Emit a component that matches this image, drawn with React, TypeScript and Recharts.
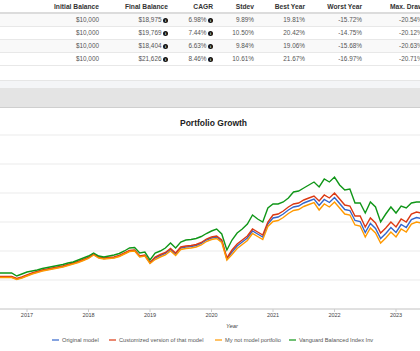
import { LineChart, Line, XAxis, YAxis, CartesianGrid, Label } from 'recharts';

// month-end values, first point = end of Jun 2016
const startYear = 2016.5;

const original = [
  10200, 10200, 10200, 10200, 10000, 10150, 10350, 10550, 10700, 10850, 10950, 11050,
  11150, 11250, 11400, 11550, 11700, 11900, 12100, 12450, 12150, 12050, 12100, 12150,
  12300, 12550, 12800, 12850, 12250, 12350, 11600, 12100, 12350, 12550, 12950, 12500,
  13100, 13200, 13250, 13350, 13550, 13900, 14100, 14200, 13800, 12000, 12700, 13300,
  13700, 14100, 14800, 14500, 14200, 15500, 16100, 16200, 16500, 16900, 17200, 17300,
  17600, 17800, 18000, 17350, 17950, 17650, 18150, 17550, 16950, 16850, 15850, 15750,
  14650, 15550, 15050, 14050, 14550, 15150, 14650, 15450, 15150, 15950, 16150, 16050,
];

const customized = [
  10250, 10250, 10250, 10250, 10050, 10200, 10400, 10600, 10750, 10900, 11000, 11100,
  11200, 11300, 11450, 11600, 11750, 11950, 12150, 12500, 12200, 12100, 12150, 12200,
  12350, 12600, 12850, 12900, 12300, 12400, 11650, 12200, 12450, 12650, 13050, 12600,
  13200, 13300, 13350, 13450, 13650, 14000, 14200, 14300, 13900, 12100, 12900, 13500,
  13900, 14300, 15000, 14700, 14400, 15700, 16400, 16500, 16800, 17200, 17500, 17600,
  17900, 18100, 18300, 17800, 18400, 18100, 18600, 18000, 17400, 17300, 16300, 16300,
  15200, 16100, 15600, 14600, 15100, 15700, 15200, 16000, 15700, 16500, 16700, 16600,
];

const myPortfolio = [
  10150, 10150, 10150, 10150, 9950, 10100, 10300, 10500, 10650, 10800, 10900, 11000,
  11100, 11200, 11350, 11500, 11650, 11850, 12050, 12400, 12100, 12000, 12050, 12100,
  12250, 12500, 12750, 12800, 12200, 12300, 11550, 11950, 12200, 12400, 12800, 12350,
  12950, 13050, 13100, 13200, 13400, 13750, 13950, 14050, 13650, 11900, 12450, 13050,
  13450, 13850, 14550, 14250, 13950, 15250, 15750, 15850, 16150, 16550, 16850, 16950,
  17250, 17450, 17650, 16900, 17500, 17200, 17700, 17100, 16500, 16400, 15400, 15300,
  14200, 15100, 14600, 13600, 14100, 14700, 14200, 15000, 14700, 15500, 15700, 15600,
];

const vanguard = [
  10600, 10600, 10600, 10600, 10300, 10500, 10700, 10800, 10900, 11050, 11150, 11250,
  11350, 11450, 11600, 11700, 11900, 12100, 12300, 12600, 12300, 12200, 12300, 12400,
  12550, 12800, 13100, 13150, 12600, 12700, 11900, 12600, 12800, 13100, 13600, 13100,
  13700, 13900, 13950, 14050, 14250, 14550, 14800, 15000, 14500, 12900, 13900, 14600,
  15000, 15500, 16400, 16000, 15700, 17100, 17500, 17500, 17700, 18100, 18700, 18800,
  19100, 19400, 19700, 19200, 20000, 19700, 20200, 19400, 18900, 19000, 17600, 17600,
  16600, 17700, 17200, 15700, 16500, 17200, 16600, 17300, 17100, 17600, 17700, 17700,
];

const yearTicks = [2017, 2018, 2019, 2020, 2021, 2022, 2023];
const balanceTicks = [7000, 9900, 12800, 15700, 18600, 21500, 24400];

const headers = ['Initial Balance', 'Final Balance', 'CAGR', 'Stdev', 'Best Year', 'Worst Year'];
const initialBalances = ['$10,000', '$10,000', '$10,000', '$10,000'];
const finalBalances = ['$18,975', '$19,769', '$18,404', '$21,626'];
const cagrs = ['6.98%', '7.44%', '6.63%', '8.46%'];
const stdevs = ['9.89%', '10.50%', '9.84%', '10.61%'];
const bestYears = ['19.81%', '20.42%', '19.06%', '21.67%'];
const worstYears = ['-15.72%', '-14.75%', '-15.68%', '-16.97%'];
const maxDrawdowns = ['-20.54%', '-20.12%', '-20.63%', '-20.71%'];

const seriesNames = ['Original model', 'Customized version of that model', 'My not model portfolio', 'Vanguard Balanced Index Inv'];
const COLORS = ['#3366cc', '#dc3912', '#ff9900', '#109618'];

const colRight = [99, 168, 213, 254, 305, 362];
const legendLeft = [52, 109, 215, 289];

const chartData = original.map((v, i) => ({
  t: startYear + i / 12,
  original: v,
  customized: customized[i],
  mine: myPortfolio[i],
  vanguard: vanguard[i],
}));

function InfoIcon() {
  return (
    <span
      style={{
        display: 'inline-block',
        width: 5,
        height: 5,
        borderRadius: '50%',
        background: '#111',
        color: '#fff',
        fontSize: 4,
        lineHeight: '5px',
        textAlign: 'center',
        fontWeight: 'bold',
        marginLeft: 1.5,
        verticalAlign: 'middle',
      }}
    >
      i
    </span>
  );
}

function Cell({ right, top, children, bold }: any) {
  return (
    <div
      style={{
        position: 'absolute',
        right: 420 - right,
        top,
        height: 13,
        lineHeight: '13px',
        whiteSpace: 'nowrap',
        fontSize: bold ? 6.7 : 6.4,
        fontWeight: bold ? 'bold' : 'normal',
        color: bold ? '#333' : '#555',
      }}
    >
      {children}
    </div>
  );
}

function StatsTable() {
  const rows = [0, 1, 2, 3];
  return (
    <div style={{ position: 'absolute', left: 0, top: 0, width: 420, height: 80 }}>
      <div style={{ position: 'absolute', left: 0, top: 12, width: 420, height: 1.5, background: '#dcdcdc' }} />
      {rows.map((r) => (
        <div
          key={r}
          style={{
            position: 'absolute',
            left: 0,
            top: 13.5 + r * 13,
            width: 420,
            height: 12,
            background: r % 2 === 0 ? '#f9f9f9' : '#fff',
            borderBottom: '1px solid #e8e8e8',
          }}
        />
      ))}
      {headers.map((h, i) => (
        <Cell key={h} right={colRight[i]} top={0} bold>
          {h}
        </Cell>
      ))}
      <div style={{ position: 'absolute', left: 390, top: 0, height: 13, lineHeight: '13px', fontSize: 6.7, fontWeight: 'bold', color: '#333', whiteSpace: 'nowrap' }}>
        Max. Drawdown
      </div>
      {rows.map((r) => {
        const top = 13 + r * 13;
        return (
          <div key={r}>
            <Cell right={colRight[0]} top={top}>{initialBalances[r]}</Cell>
            <Cell right={colRight[1]} top={top}>
              {finalBalances[r]}
              <InfoIcon />
            </Cell>
            <Cell right={colRight[2]} top={top}>
              {cagrs[r]}
              <InfoIcon />
            </Cell>
            <Cell right={colRight[3]} top={top}>{stdevs[r]}</Cell>
            <Cell right={colRight[4]} top={top}>{bestYears[r]}</Cell>
            <Cell right={colRight[5]} top={top}>{worstYears[r]}</Cell>
            <div style={{ position: 'absolute', left: 399, top, height: 13, lineHeight: '13px', fontSize: 6.4, color: '#555', whiteSpace: 'nowrap' }}>
              {maxDrawdowns[r]}
            </div>
          </div>
        );
      })}
    </div>
  );
}

export default function App() {
  return (
    <div
      style={{
        position: 'absolute',
        left: 0,
        top: 0,
        width: 420,
        height: 351,
        overflow: 'hidden',
        background: '#fff',
        fontFamily: '"Liberation Sans", Arial, sans-serif',
      }}
    >
      <StatsTable />
      <div style={{ position: 'absolute', left: 0, top: 80, width: 420, height: 1, background: '#e6e6e6' }} />
      <div style={{ position: 'absolute', left: 0, top: 81, width: 420, height: 7, background: '#f4f5f7' }} />
      <div style={{ position: 'absolute', left: 0, top: 88, width: 420, height: 19, background: '#e4e4e4', borderBottom: '1px solid #cfcfcf' }} />

      <div
        style={{
          position: 'absolute',
          left: 0,
          top: 117,
          width: 427,
          textAlign: 'center',
          fontSize: 8.5,
          fontWeight: 'bold',
          color: '#222',
          lineHeight: '12px',
        }}
      >
        Portfolio Growth
      </div>

      <div style={{ position: 'absolute', left: 0, top: 110 }}>
        <LineChart width={420} height={220} data={chartData} margin={{ top: 25, right: 0, bottom: 0, left: 0 }}>
          <CartesianGrid vertical={false} stroke="#ebebeb" strokeWidth={1} />
          <XAxis
            dataKey="t"
            type="number"
            domain={[2016.561, 2023.39]}
            allowDataOverflow
            ticks={yearTicks}
            interval={0}
            tickFormatter={(v: number) => String(v)}
            height={21}
            axisLine={{ stroke: '#cccccc' }}
            tickLine={{ stroke: '#cccccc' }}
            tickSize={3}
            tickMargin={1}
            tick={{ fontSize: 5.5, fill: '#444' }}
          >
            <Label value="Year" position="insideBottom" offset={2} dx={22} style={{ fontSize: 5.8, fill: '#444', fontStyle: 'italic' }} />
          </XAxis>
          <YAxis hide type="number" domain={[7000, 24400]} ticks={balanceTicks} allowDataOverflow />
          <Line type="linear" dataKey="original" name={seriesNames[0]} stroke={COLORS[0]} strokeWidth={1.4} dot={false} isAnimationActive={false} />
          <Line type="linear" dataKey="customized" name={seriesNames[1]} stroke={COLORS[1]} strokeWidth={1.4} dot={false} isAnimationActive={false} />
          <Line type="linear" dataKey="mine" name={seriesNames[2]} stroke={COLORS[2]} strokeWidth={1.4} dot={false} isAnimationActive={false} />
          <Line type="linear" dataKey="vanguard" name={seriesNames[3]} stroke={COLORS[3]} strokeWidth={1.4} dot={false} isAnimationActive={false} />
        </LineChart>
      </div>

      {seriesNames.map((name, i) => (
        <div
          key={name}
          style={{
            position: 'absolute',
            left: legendLeft[i],
            top: 335,
            height: 10,
            lineHeight: '10px',
            fontSize: 5.7,
            color: '#555',
            whiteSpace: 'nowrap',
            display: 'flex',
            alignItems: 'center',
          }}
        >
          <span style={{ display: 'inline-block', width: 7, height: 1.5, background: COLORS[i], opacity: 0.6, marginRight: 3 }} />
          {name}
        </div>
      ))}
    </div>
  );
}
